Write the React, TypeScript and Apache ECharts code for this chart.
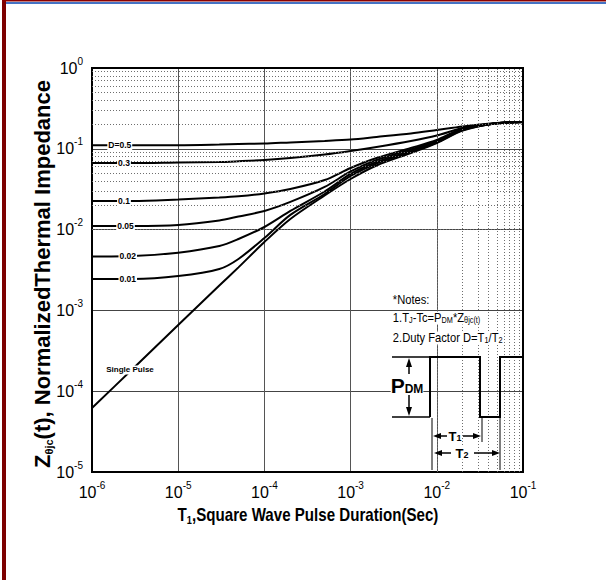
import React, { useEffect, useRef } from "react";
import * as echarts from "echarts";

// T1 pulse durations (s) at which the curves were read
const durations = [1e-6, 3e-6, 1e-5, 3e-5, 5e-5, 1e-4, 2e-4, 5e-4, 1e-3, 2e-3, 5e-3, 1e-2, 2e-2, 5e-2, 1e-1];

// Normalized thermal impedance, one list per duty factor
const dutyNames = ["D=0.5", "0.3", "0.1", "0.05", "0.02", "0.01"];
const zD050 = [0.111, 0.111, 0.111, 0.113, 0.1147, 0.116, 0.12, 0.125, 0.13, 0.14, 0.155, 0.171, 0.189, 0.209, 0.215];
const zD030 = [0.0667, 0.0667, 0.0677, 0.0686, 0.0701, 0.0727, 0.0769, 0.085, 0.0939, 0.1053, 0.1249, 0.1461, 0.1809, 0.207, 0.215];
const zD010 = [0.0226, 0.0226, 0.0236, 0.0249, 0.0258, 0.028, 0.0318, 0.0411, 0.0579, 0.0769, 0.1023, 0.1285, 0.178, 0.207, 0.215];
const zD005 = [0.0111, 0.0111, 0.0114, 0.01296, 0.01453, 0.017, 0.022, 0.0337, 0.0524, 0.0727, 0.098, 0.1249, 0.1758, 0.207, 0.215];
const zD002 = [0.00465, 0.00471, 0.00518, 0.00626, 0.00765, 0.01077, 0.017, 0.0296, 0.0488, 0.0686, 0.0939, 0.1214, 0.1733, 0.207, 0.215];
const zD001 = [0.00245, 0.00245, 0.00266, 0.00325, 0.00433, 0.00787, 0.0152, 0.02758, 0.0461, 0.0658, 0.0913, 0.1197, 0.1709, 0.207, 0.215];
const zSingle = [6.19e-5, 1.91e-4, 6.6e-4, 2.03e-3, 3.41e-3, 7.02e-3, 0.01352, 0.02642, 0.04228, 0.0621, 0.0887, 0.118, 0.1684, 0.207, 0.215];
const singleName = "Single Pulse";

// where (in T1) each curve's label sits on its line
const dutyLabelT = [2.1e-6, 2.35e-6, 2.35e-6, 2.45e-6, 2.6e-6, 2.6e-6];
const singleLabelT = 2.76e-6;
const singleLabelZ = 1.83e-4;

// axis ranges (decades)
const xDecades = [1e-6, 1e-5, 1e-4, 1e-3, 1e-2];
const yDecades = [1e-5, 1e-4, 1e-3, 1e-2, 1e-1];
const minorMultipliers = [2, 3, 4, 5, 6, 7, 8, 9];

const FONT = "'Liberation Sans', Arial, Helvetica, sans-serif";
const NARROW = "'Liberation Sans Narrow', 'Arial Narrow', 'Liberation Sans', Arial, sans-serif";

export default function App() {
  const ref = useRef<HTMLDivElement>(null);

  useEffect(() => {
    if (!ref.current) return;
    const chart = echarts.init(ref.current, undefined, { renderer: "svg" });

    const minorX = xDecades.flatMap((d) => minorMultipliers.map((m) => m * d));
    const minorY = yDecades.flatMap((d) => minorMultipliers.map((m) => m * d));

    const dutyData = [zD050, zD030, zD010, zD005, zD002, zD001];

    const labelStyle = {
      show: true,
      position: "inside",
      color: "#000",
      fontSize: 8.5,
      fontWeight: "bold",
      fontFamily: FONT,
      backgroundColor: "#fff",
      padding: [1, 1, 0, 1],
    };

    const curveSeries: any[] = dutyData.map((z, i) => ({
      name: dutyNames[i],
      type: "line",
      data: durations.map((t, k) => [t, z[k]]),
      symbol: "none",
      smooth: 0.3,
      lineStyle: { color: "#000", width: 2 },
      z: 3,
      silent: true,
      markPoint: {
        symbol: "circle",
        symbolSize: 0,
        silent: true,
        z: 6,
        data: [{ coord: [dutyLabelT[i], z[0]], value: dutyNames[i] }],
        label: { ...labelStyle, formatter: dutyNames[i] },
      },
    }));

    curveSeries.push({
      name: singleName,
      type: "line",
      data: durations.map((t, k) => [t, zSingle[k]]),
      symbol: "none",
      smooth: 0.3,
      lineStyle: { color: "#000", width: 2 },
      z: 3,
      silent: true,
      markPoint: {
        symbol: "circle",
        symbolSize: 0,
        silent: true,
        z: 6,
        data: [{ coord: [singleLabelT, singleLabelZ], value: singleName }],
        label: { ...labelStyle, fontSize: 8, formatter: singleName, padding: [1, 2, 0, 2] },
      },
    });

    const gridSeries = {
      name: "minor-grid",
      type: "line",
      data: [],
      symbol: "none",
      silent: true,
      z: 1,
      markLine: {
        silent: true,
        symbol: ["none", "none"],
        label: { show: false },
        lineStyle: { color: "#6e6e6e", type: [1, 2], width: 1 },
        data: [
          ...minorX.map((v) => ({ xAxis: v })),
          ...minorY.map((v) => ({ yAxis: v })),
        ],
      },
    };

    const tickRich = {
      b: { fontSize: 16, fontFamily: NARROW, color: "#000", lineHeight: 24 },
      s: { fontSize: 10, fontFamily: NARROW, color: "#000", lineHeight: 10, verticalAlign: "top" },
    };
    const tickFormatter = (v: number) => `{b|10}{s|${Math.round(Math.log10(v))}}`;

    const arrow = (pts: number[][]) => ({ type: "polygon", shape: { points: pts }, style: { fill: "#000" }, z: 20 });
    const seg = (x1: number, y1: number, x2: number, y2: number, w = 2) => ({
      type: "line",
      shape: { x1, y1, x2, y2 },
      style: { stroke: "#000", lineWidth: w },
      z: 20,
    });

    const subRich = {
      sub: { fontSize: 8.5, fontFamily: FONT, color: "#000", verticalAlign: "bottom", lineHeight: 13 },
    };
    const noteFont = `13px ${FONT}`;

    const option: any = {
      animation: false,
      grid: {
        left: 92,
        right: 83,
        top: 68,
        bottom: 108,
        show: true,
        borderColor: "#000",
        borderWidth: 2,
        backgroundColor: "transparent",
        z: 4,
      },
      xAxis: {
        type: "log",
        logBase: 10,
        min: 1e-6,
        max: 1e-1,
        splitNumber: 5,
        axisLine: { show: false },
        axisTick: { show: false },
        splitLine: { show: true, lineStyle: { color: "#555", width: 1 } },
        axisLabel: { margin: 8, formatter: tickFormatter, rich: tickRich },
      },
      yAxis: {
        type: "log",
        logBase: 10,
        min: 1e-5,
        max: 1,
        splitNumber: 5,
        axisLine: { show: false },
        axisTick: { show: false },
        splitLine: { show: true, lineStyle: { color: "#444", width: 1 } },
        axisLabel: { margin: 9, formatter: tickFormatter, rich: tickRich },
      },
      series: [gridSeries, ...curveSeries],
      graphic: [
        // page frame decorations
        { type: "rect", shape: { x: 2, y: 0, width: 4, height: 580 }, style: { fill: "#7d0000" }, z: 30 },
        { type: "rect", shape: { x: 2, y: 0, width: 604, height: 1.5 }, style: { fill: "#8b0000" }, z: 30 },
        { type: "rect", shape: { x: 6, y: 2, width: 600, height: 2 }, style: { fill: "#4472c4" }, z: 30 },
        // axis titles
        {
          type: "text",
          x: 42,
          y: 274,
          rotation: Math.PI / 2,
          z: 30,
          style: {
            text: "{z|Z}{s|θjc}{n|(t), NormalizedThermal Impedance}",
            align: "center",
            verticalAlign: "middle",
            rich: {
              z: { fontSize: 22, fontWeight: "bold", fontFamily: FONT, color: "#000", lineHeight: 25 },
              s: { fontSize: 11, fontWeight: "bold", fontFamily: FONT, color: "#000", lineHeight: 14, verticalAlign: "bottom" },
              n: { fontSize: 22, fontWeight: "bold", fontFamily: FONT, color: "#000", lineHeight: 25 },
            },
          },
        },
        {
          type: "text",
          x: 308,
          y: 515,
          scaleX: 0.84,
          z: 30,
          style: {
            text: "{t|T}{s|1}{t|,Square Wave Pulse Duration(Sec)}",
            align: "center",
            verticalAlign: "middle",
            rich: {
              t: { fontSize: 18, fontWeight: "bold", fontFamily: FONT, color: "#000", lineHeight: 22 },
              s: { fontSize: 11, fontWeight: "bold", fontFamily: FONT, color: "#000", lineHeight: 14, verticalAlign: "bottom" },
            },
          },
        },
        // notes
        {
          type: "text",
          x: 392,
          y: 300,
          scaleX: 0.86,
          z: 20,
          style: { text: "*Notes:", font: noteFont, fill: "#000", verticalAlign: "middle", backgroundColor: "#fff", padding: [0, 1] },
        },
        {
          type: "text",
          x: 392,
          y: 318,
          scaleX: 0.86,
          z: 20,
          style: {
            text: "1.T{sub|J}-Tc=P{sub|DM}*Z{sub|θjc(t)}",
            font: noteFont,
            fill: "#000",
            verticalAlign: "middle",
            backgroundColor: "#fff",
            padding: [0, 1],
            rich: subRich,
          },
        },
        {
          type: "text",
          x: 392,
          y: 338,
          scaleX: 0.86,
          z: 20,
          style: {
            text: "2.Duty Factor D=T{sub|1}/T{sub|2}",
            font: noteFont,
            fill: "#000",
            verticalAlign: "middle",
            backgroundColor: "#fff",
            padding: [0, 1],
            rich: subRich,
          },
        },
        // pulse waveform
        seg(392, 357, 430, 357, 1.5),
        seg(392, 417, 430, 417, 1.5),
        seg(430, 417, 430, 356),
        seg(429, 357, 481, 357),
        seg(480, 356, 480, 418),
        seg(479, 417, 501, 417),
        seg(500, 418, 500, 356),
        seg(499, 357, 523, 357),
        // PDM arrows + label
        seg(409, 366, 409, 374, 1.5),
        arrow([[409, 358], [406, 367], [412, 367]]),
        seg(409, 394, 409, 408, 1.5),
        arrow([[409, 416], [406, 407], [412, 407]]),
        {
          type: "text",
          x: 407,
          y: 385,
          z: 21,
          style: {
            text: "{p|P}{d|DM}",
            align: "center",
            verticalAlign: "middle",
            backgroundColor: "#fff",
            rich: {
              p: { fontSize: 21, fontWeight: "bold", fontFamily: FONT, color: "#000", lineHeight: 20 },
              d: { fontSize: 12, fontWeight: "bold", fontFamily: FONT, color: "#000", lineHeight: 14, verticalAlign: "bottom" },
            },
          },
        },
        // T1 / T2 dimensions
        seg(432, 418, 432, 470, 1),
        seg(482, 418, 482, 442, 1),
        seg(500, 418, 500, 470, 1),
        arrow([[433, 436], [441, 433], [441, 439]]),
        seg(441, 436, 447, 436, 1.5),
        seg(463, 436, 474, 436, 1.5),
        arrow([[481, 436], [473, 433], [473, 439]]),
        {
          type: "text",
          x: 455,
          y: 436,
          z: 21,
          style: {
            text: "T{s|1}",
            font: `bold 13px ${FONT}`,
            fill: "#000",
            align: "center",
            verticalAlign: "middle",
            backgroundColor: "#fff",
            rich: { s: { fontSize: 9, fontWeight: "bold", fontFamily: FONT, color: "#000", verticalAlign: "bottom", lineHeight: 12 } },
          },
        },
        arrow([[434, 453], [442, 450], [442, 456]]),
        seg(442, 453, 451, 453, 1.5),
        seg(474, 453, 493, 453, 1.5),
        arrow([[500, 453], [492, 450], [492, 456]]),
        {
          type: "text",
          x: 462,
          y: 453,
          z: 21,
          style: {
            text: "T{s|2}",
            font: `bold 13px ${FONT}`,
            fill: "#000",
            align: "center",
            verticalAlign: "middle",
            backgroundColor: "#fff",
            rich: { s: { fontSize: 9, fontWeight: "bold", fontFamily: FONT, color: "#000", verticalAlign: "bottom", lineHeight: 12 } },
          },
        },
      ],
    };

    chart.setOption(option);
    return () => chart.dispose();
  }, []);

  return (
    <div
      ref={ref}
      style={{ position: "fixed", left: 0, top: 0, width: 606, height: 580, background: "#fff" }}
    />
  );
}
